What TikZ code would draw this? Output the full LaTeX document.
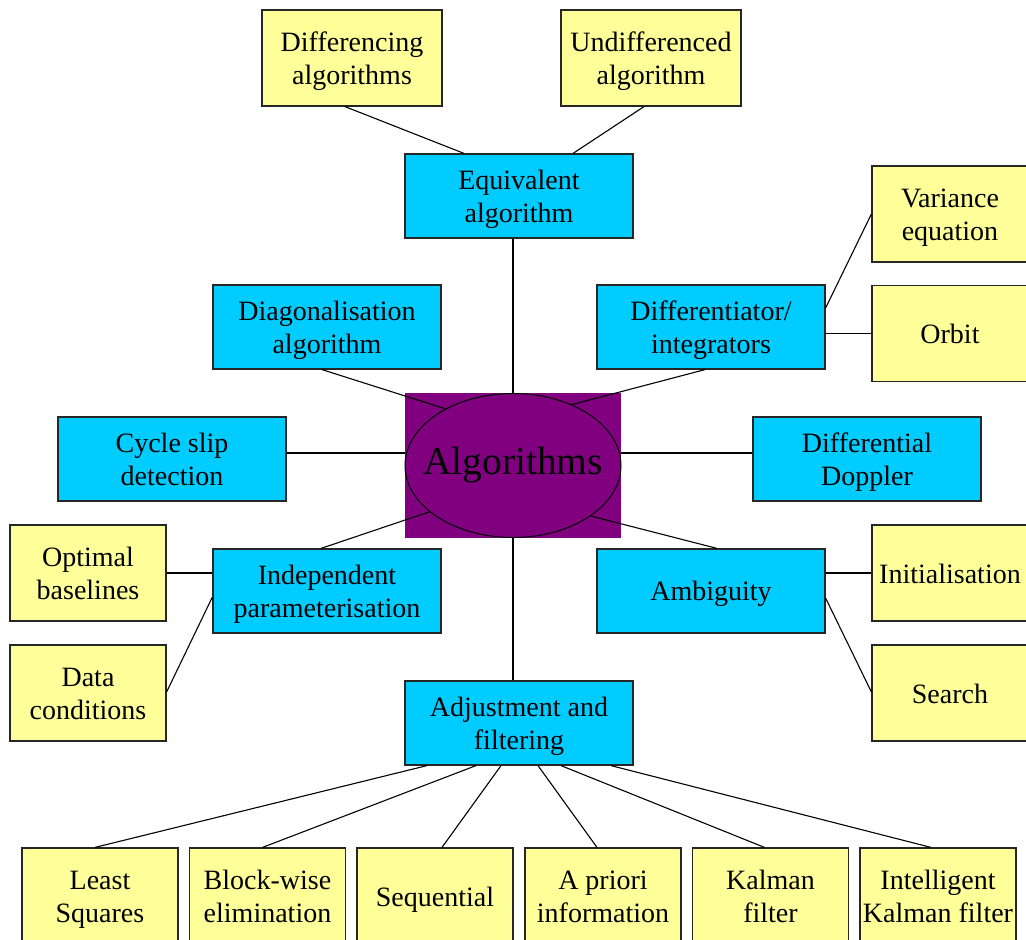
\documentclass[tikz,border=0pt]{standalone}
\usepackage{fontspec}
\setmainfont{Liberation Serif}
\usetikzlibrary{shapes.geometric}
\definecolor{leafcolor}{RGB}{255,255,153}
\definecolor{branchcolor}{RGB}{0,204,255}
\definecolor{rootcolor}{RGB}{128,0,128}

\tikzset{
boxfont/.style={font=\fontsize{28}{33}\selectfont, align=flush center, inner sep=0pt,
  execute at begin node={\rule{0pt}{26pt}}, execute at end node={\rule[-6pt]{0pt}{6pt}}},
leafbox/.style={boxfont, draw=black!85, line width=1.2pt, fill=leafcolor,
  text width=156pt, minimum width=156pt, minimum height=96pt},
branchbox/.style={boxfont, draw=black!85, line width=1.2pt, fill=branchcolor,
  text width=228pt, minimum width=228pt, minimum height=84pt},
link/.style={draw=black, line width=1.1pt}
}

\begin{document}
\begin{tikzpicture}[x=1pt,y=-1pt]
\useasboundingbox (0,0) rectangle (1026,940);

% Centre
\node[fill=rootcolor, minimum width=216pt, minimum height=145pt, inner sep=0pt] (bg) at (513,465.5) {};
\node[ellipse, draw=black, line width=1pt, fill=rootcolor, inner sep=0pt,
minimum width=216pt, minimum height=144pt] (alg) at (513,465.5) {};
\node[font=\fontsize{39.5}{44}\selectfont, inner sep=0pt] (algtext) at (alg.center) {Algorithms};

% Blue branches
\node[branchbox] (equ) at (519,196) {Equivalent\\algorithm};
\node[branchbox] (dia) at (327,327) {Diagonalisation\\algorithm};
\node[branchbox] (dfi) at (711,327) {Differentiator/\\integrators};
\node[branchbox] (cyc) at (172,459) {Cycle slip\\detection};
\node[branchbox] (dop) at (867,459) {Differential\\Doppler};
\node[branchbox] (ind) at (327,591) {Independent\\parameterisation};
\node[branchbox] (amb) at (711,591) {Ambiguity};
\node[branchbox] (adj) at (519,723) {Adjustment and\\filtering};

% Yellow leaves
\node[leafbox, text width=180pt, minimum width=180pt] (dif) at (352,58) {Differencing\\algorithms};
\node[leafbox, text width=180pt, minimum width=180pt] (und) at (651,58) {Undifferenced\\algorithm};
\node[leafbox] (var) at (950,214) {Variance\\equation};
\node[leafbox] (orb) at (950,333.5) {Orbit};
\node[leafbox] (ini) at (950,573) {Initialisation};
\node[leafbox] (sea) at (950,693) {Search};
\node[leafbox] (opt) at (88,573) {Optimal\\baselines};
\node[leafbox] (dat) at (88,693) {Data\\conditions};
\node[leafbox] (lsq) at (100,896) {Least\\Squares};
\node[leafbox] (blk) at (267.5,896) {Block-wise\\elimination};
\node[leafbox] (seq) at (435,896) {Sequential};
\node[leafbox] (apr) at (603,896) {A priori\\information};
\node[leafbox] (kal) at (770.5,896) {Kalman\\filter};
\node[leafbox] (ikf) at (938,896) {Intelligent\\Kalman filter};

% Links around the centre
\draw[link] (bg.north) -- (bg.north |- equ.south);
\draw[link] (bg.south) -- (bg.south |- adj.north);
\draw[link] ([xshift=-5pt]dia.south) -- (alg.140);
\draw[link] ([xshift=-6pt]dfi.south) -- (alg.46);
\draw[link] ([xshift=-6pt]ind.north) -- (alg.209);
\draw[link] ([xshift=6pt]amb.north) -- (alg.327);
\draw[link] ([yshift=6pt]cyc.east) -- ([yshift=6pt]cyc.east -| bg.west);
\draw[link] ([yshift=6pt]dop.west) -- ([yshift=6pt]dop.west -| bg.east);

% Links to the leaves
\draw[link] ([xshift=-7pt]dif.south) -- ([xshift=-55pt]equ.north);
\draw[link] ([xshift=-7pt]und.south) -- ([xshift=54pt]equ.north);
\draw[link] ([yshift=19pt]dfi.east) -- (var.west);
\draw[link] (orb.west -| dfi.east) -- (orb.west);
\draw[link] (ini.west -| amb.east) -- (ini.west);
\draw[link] ([yshift=-7pt]amb.east) -- ([yshift=1pt]sea.west);
\draw[link] (opt.east) -- (opt.east -| ind.west);
\draw[link] ([yshift=1pt]dat.east) -- ([yshift=-6pt]ind.west);
\draw[link] ([xshift=-92pt]adj.south) -- ([xshift=-5pt]lsq.north);
\draw[link] ([xshift=-43pt]adj.south) -- ([xshift=-5pt]blk.north);
\draw[link] ([xshift=-18pt]adj.south) -- ([xshift=7pt]seq.north);
\draw[link] ([xshift=19pt]adj.south) -- ([xshift=-6pt]apr.north);
\draw[link] ([xshift=42pt]adj.south) -- ([xshift=-6pt]kal.north);
\draw[link] ([xshift=92pt]adj.south) -- ([xshift=-7pt]ikf.north);

\end{tikzpicture}
\end{document}
